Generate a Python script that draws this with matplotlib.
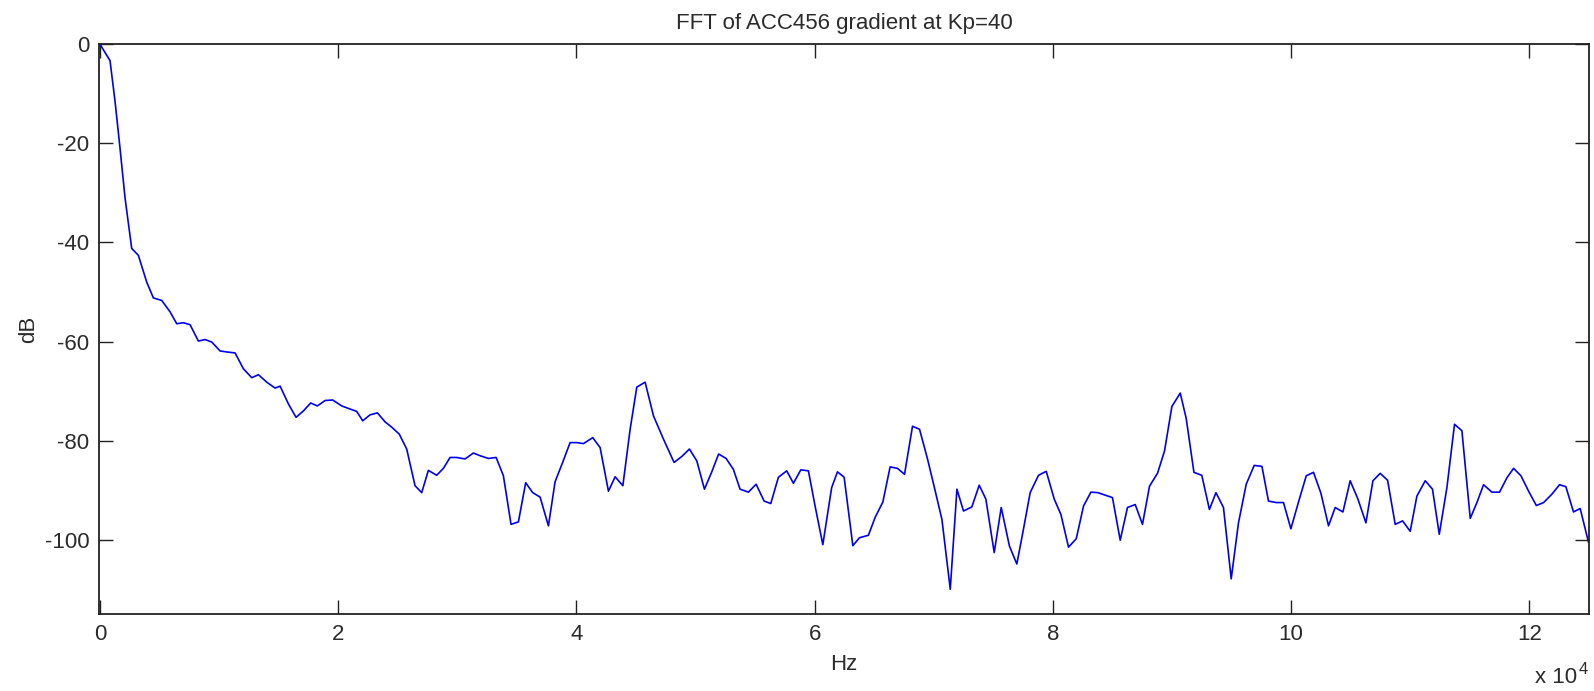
import matplotlib
matplotlib.use('Agg')
import matplotlib.pyplot as plt

# spectrum (Hz, dB)
freq_hz = [0, 840, 1260, 1680, 2100, 2660, 3220, 3920, 4480, 5180, 5880, 6440, 7000,
           7560, 8260, 8820, 9380, 10080, 10640, 11340, 12040, 12740, 13300, 14000,
           14700, 15120, 15820, 16460, 17080, 17690, 18250, 18900, 19540, 20300, 20850,
           21550, 22060, 22670, 23290, 23930, 24500, 25130, 25750, 26450, 27010, 27570,
           28270, 28830, 29390, 29950, 30650, 31350, 31970, 32610, 33260, 33870, 34510,
           35130, 35740, 36330, 36950, 37650, 38210, 38860, 39470, 40030, 40590, 41370,
           41990, 42690, 43250, 43900, 44510, 45070, 45770, 46470, 47310, 48200, 48850,
           49490, 50110, 50750, 51350, 51940, 52570, 53180, 53740, 54440, 55090, 55760,
           56320, 56960, 57660, 58220, 58840, 59480, 60040, 60690, 61430, 61920, 62480,
           63210, 63770, 64520, 65080, 65730, 66340, 66960, 67550, 68220, 68810, 69480,
           70130, 70690, 71390, 71950, 72500, 73200, 73820, 74380, 75080, 75670, 76360,
           76980, 77480, 78100, 78800, 79450, 80120, 80680, 81320, 81970, 82580, 83200,
           83780, 84400, 85010, 85660, 86270, 86920, 87530, 88120, 88790, 89380, 90000,
           90700, 91200, 91850, 92510, 93150, 93700, 94330, 94980, 95590, 96240, 96910,
           97560, 98110, 98760, 99370, 99990, 100630, 101280, 101890, 102510, 103150,
           103710, 104360, 104970, 105620, 106290, 106880, 107490, 108110, 108750,
           109370, 110010, 110570, 111270, 111880, 112450, 113090, 113730, 114350,
           115050, 115610, 116170, 116870, 117510, 118130, 118690, 119310, 119950,
           120600, 121210, 121910, 122550, 123080, 123720, 124280, 124980]

gain_db = [0, -3.3, -11.5, -21, -31, -41.2, -42.6, -48, -51.2, -51.7, -54, -56.4, -56.2,
           -56.6, -59.9, -59.6, -60.1, -61.9, -62.1, -62.3, -65.5, -67.3, -66.7, -68.2,
           -69.4, -69.0, -72.6, -75.3, -74, -72.4, -73, -71.9, -71.8, -73, -73.5,
           -74.1, -76, -74.8, -74.4, -76.2, -77.3, -78.7, -81.7, -89.1, -90.5, -86,
           -87, -85.6, -83.4, -83.4, -83.7, -82.5, -83.1, -83.6, -83.4, -87.1, -96.9,
           -96.4, -88.5, -90.5, -91.4, -97.2, -88.3, -84.3, -80.4, -80.4, -80.6, -79.4,
           -81.4, -90.2, -87.3, -89.1, -77.7, -69.2, -68.2, -75, -79.7, -84.4, -83.2,
           -81.7, -84.1, -89.8, -86.4, -82.7, -83.6, -85.8, -89.8, -90.4, -88.8, -92.2,
           -92.7, -87.4, -86.1, -88.6, -85.9, -86.1, -93.2, -101, -89.5, -86.3, -87.4,
           -101.2, -99.6, -99.1, -95.5, -92.4, -85.3, -85.6, -86.8, -77.1, -77.7, -83.7,
           -90.2, -95.9, -110, -89.8, -94.2, -93.4, -89, -91.8, -102.6, -93.5, -101.3,
           -104.9, -98.6, -90.5, -87, -86.2, -91.8, -94.9, -101.5, -99.8, -93.2, -90.4,
           -90.5, -91, -91.5, -100.1, -93.5, -92.9, -96.9, -89.2, -86.6, -82.1, -73.1,
           -70.4, -75.5, -86.4, -87, -93.9, -90.5, -93.5, -107.9, -96.6, -88.8, -85,
           -85.2, -92.2, -92.5, -92.5, -97.8, -92.4, -87.1, -86.4, -90.6, -97.2,
           -93.5, -94.4, -88.1, -91.8, -96.6, -88.1, -86.6, -88, -96.9,
           -96.2, -98.3, -91.2, -88.1, -89.8, -98.9, -89.5, -76.7, -78,
           -95.7, -92.5, -88.9, -90.4, -90.4, -87.5, -85.6, -87.1, -90.2,
           -93.1, -92.5, -90.8, -88.9, -89.3, -94.4, -93.7, -100.5]

x_ticks = [0, 20000, 40000, 60000, 80000, 100000, 120000]
x_tick_labels = ['0', '2', '4', '6', '8', '10', '12']
y_ticks = [-100, -80, -60, -40, -20, 0]

text_color = '#2b2b2b'
fs = 16
plt.rcParams['font.family'] = ['Liberation Sans', 'DejaVu Sans']
plt.rcParams['axes.unicode_minus'] = False

fig = plt.figure(figsize=(15.94, 6.91), dpi=100)
ax = fig.add_axes([0.0623, 0.1114, 0.9344, 0.8245])

ax.plot(freq_hz, gain_db, color='#0000ee', linewidth=1.2)

ax.set_xlim(-60, 125000)
ax.set_ylim(-115, 0)
ax.set_xticks(x_ticks)
ax.set_xticklabels(x_tick_labels)
ax.set_yticks(y_ticks)

ax.tick_params(direction='in', length=10, width=1, top=True, right=True,
               labelsize=fs, labelcolor=text_color, color='#222222', pad=7)
for s in ax.spines.values():
    s.set_linewidth(1.3)
    s.set_color('#222222')

ax.set_title('FFT of ACC456 gradient at Kp=40', fontsize=fs, color=text_color, pad=11)
ax.set_xlabel('Hz', fontsize=fs, color=text_color, labelpad=7)
ax.set_ylabel('dB', fontsize=fs, color=text_color, labelpad=4)

# MATLAB style exponent under the right end of the x axis
ax.text(0.9921, -0.121, 'x 10', transform=ax.transAxes,
        ha='right', va='baseline', fontsize=fs, color=text_color)
ax.text(0.9935, -0.105, '4', transform=ax.transAxes,
        ha='left', va='baseline', fontsize=12, color=text_color)

fig.savefig('out.png', dpi=100)
